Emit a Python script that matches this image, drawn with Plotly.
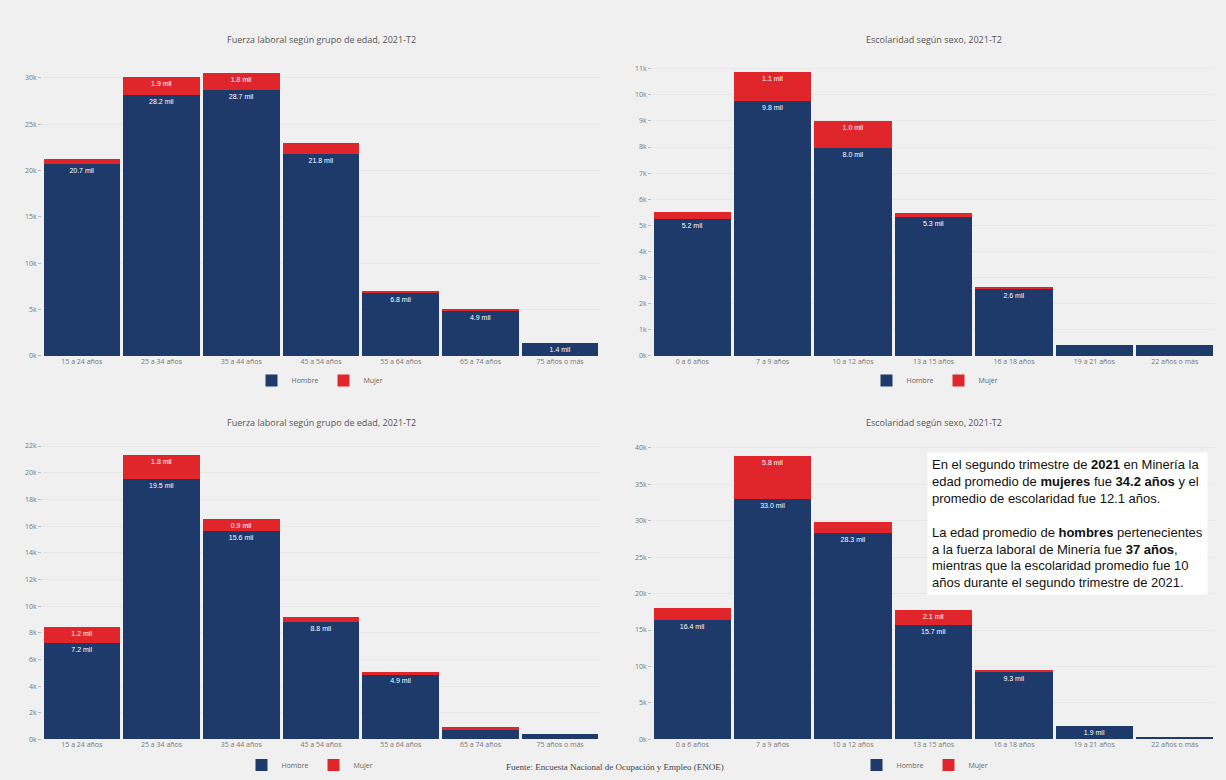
import plotly.graph_objects as go

# ---------------- data ----------------
edad_cats = ["15 a 24 años", "25 a 34 años", "35 a 44 años", "45 a 54 años",
             "55 a 64 años", "65 a 74 años", "75 años o más"]
esc_cats = ["0 a 6 años", "7 a 9 años", "10 a 12 años", "13 a 15 años",
            "16 a 18 años", "19 a 21 años", "22 años o más"]

# top-left (miles)
tl_hombre = [20.7, 28.2, 28.7, 21.8, 6.8, 4.9, 1.4]
tl_mujer = [0.6, 1.9, 1.8, 1.2, 0.1, 0.05, 0.0]
# top-right (miles)
tr_hombre = [5.25, 9.77, 7.96, 5.32, 2.57, 0.42, 0.42]
tr_mujer = [0.26, 1.09, 1.02, 0.15, 0.08, 0.0, 0.0]
# bottom-left (miles)
bl_hombre = [7.2, 19.5, 15.6, 8.8, 4.9, 0.74, 0.44]
bl_mujer = [1.2, 1.8, 0.9, 0.4, 0.14, 0.22, 0.0]
# bottom-right (miles)
br_hombre = [16.4, 33.0, 28.3, 15.7, 9.3, 1.9, 0.4]
br_mujer = [1.6, 5.8, 1.5, 2.1, 0.25, 0.0, 0.0]

titles = ["Fuerza laboral según grupo de edad, 2021-T2",
          "Escolaridad según sexo, 2021-T2",
          "Fuerza laboral según grupo de edad, 2021-T2",
          "Escolaridad según sexo, 2021-T2"]

NAVY = "#1d3a6b"
RED = "#e0262b"
BG = "#f0f0f0"

W, H = 1226, 780
def px_x(x): return x / W
def px_y(y): return 1 - y / H

panels = [
    dict(cats=edad_cats, h=tl_hombre, m=tl_mujer, xd=(42, 600), yd=(358, 60), rmax=31.7, dt=5, legend="legend", lx=320, ly=383, tx=321, ty=37),
    dict(cats=esc_cats, h=tr_hombre, m=tr_mujer, xd=(652, 1215), yd=(358, 60), rmax=11.25, dt=1, legend="legend2", lx=935, ly=383, tx=934, ty=37),
    dict(cats=edad_cats, h=bl_hombre, m=bl_mujer, xd=(42, 600), yd=(747, 448), rmax=22.1, dt=2, legend="legend3", lx=310, ly=773, tx=321, ty=425),
    dict(cats=esc_cats, h=br_hombre, m=br_mujer, xd=(652, 1215), yd=(747, 448), rmax=40.4, dt=5, legend="legend4", lx=925, ly=773, tx=934, ty=425),
]

fig = go.Figure()
layout = dict(
    width=W, height=H, paper_bgcolor=BG, plot_bgcolor=BG,
    margin=dict(l=0, r=0, t=0, b=0), barmode="stack", bargap=0.04,
    font=dict(family="Open Sans, sans-serif", color="#555"),
    uniformtext=dict(minsize=6, mode="hide"),
    showlegend=True, annotations=[],
)

for i, p in enumerate(panels):
    n = "" if i == 0 else str(i + 1)
    xa, ya = "x" + n, "y" + n
    fig.add_trace(go.Bar(
        x=p["cats"], y=p["h"], name="Hombre", marker=dict(color=NAVY, line=dict(width=0)),
        xaxis=xa, yaxis=ya, legend=p["legend"],
        text=[f"{v:.1f} mil" for v in p["h"]], textposition="inside", insidetextanchor="end",
        textangle=0, textfont=dict(color="white", size=7, family="Arial Black, Arial, sans-serif"),
    ))
    fig.add_trace(go.Bar(
        x=p["cats"], y=p["m"], name="Mujer", marker=dict(color=RED, line=dict(width=0)),
        xaxis=xa, yaxis=ya, legend=p["legend"],
        text=[f"{v:.1f} mil" for v in p["m"]], textposition="inside", insidetextanchor="end",
        textangle=0, textfont=dict(color="white", size=7, family="Arial Black, Arial, sans-serif"),
    ))
    layout["xaxis" + n] = dict(
        domain=[px_x(p["xd"][0]), px_x(p["xd"][1])], anchor=ya, range=[-0.5, 6.5],
        showgrid=False, tickfont=dict(size=7, color="#777"), ticks="", showline=False,
        zeroline=False,
    )
    layout["yaxis" + n] = dict(
        domain=[px_y(p["yd"][0]), px_y(p["yd"][1])], anchor=xa, range=[0, p["rmax"]],
        dtick=p["dt"], ticksuffix="k", showgrid=True,
        gridcolor="#e7e7e7", zeroline=False, tickfont=dict(size=7, color="#777"),
        ticks="outside", ticklen=3, tickcolor="#bbb",
    )
    layout[p["legend"]] = dict(
        orientation="h", x=px_x(p["lx"]), y=px_y(p["ly"]), xanchor="center", yanchor="middle",
        font=dict(size=7, color="#666"), bgcolor="rgba(0,0,0,0)", itemwidth=30,
        traceorder="normal",
    )
    layout["annotations"].append(dict(
        text=titles[i], x=px_x(p["tx"]), y=px_y(p["ty"]), xref="paper", yref="paper",
        showarrow=False, font=dict(size=9, color="#555"), xanchor="center", yanchor="middle",
    ))

box_text = ("En el segundo trimestre de <b>2021</b> en Minería la<br>"
            "edad promedio de <b>mujeres</b> fue <b>34.2 años</b> y el<br>"
            "promedio de escolaridad fue 12.1 años.<br><br>"
            "La edad promedio de <b>hombres</b> pertenecientes<br>"
            "a la fuerza laboral de Minería fue <b>37 años</b>,<br>"
            "mientras que la escolaridad promedio fue 10<br>"
            "años durante el segundo trimestre de 2021.")
layout["annotations"].append(dict(
    text=box_text, x=px_x(927), y=px_y(455), xref="paper", yref="paper", showarrow=False,
    xanchor="left", yanchor="top", align="left", bgcolor="white", borderpad=4,
    font=dict(size=13, color="#111", family="Liberation Sans, Arial, sans-serif"),
))
layout["annotations"].append(dict(
    text="Fuente: Encuesta Nacional de Ocupación y Empleo (ENOE)", x=px_x(615), y=px_y(775),
    xref="paper", yref="paper", showarrow=False, xanchor="center", yanchor="middle",
    font=dict(size=9, color="#444", family="Liberation Serif, serif"),
))

fig.update_layout(**layout)
fig.write_html("out.html")
